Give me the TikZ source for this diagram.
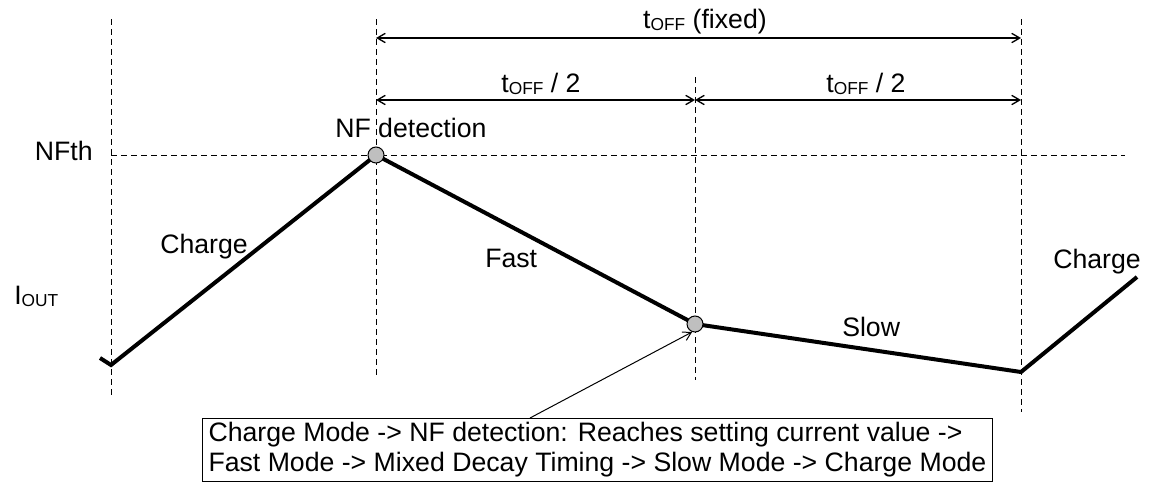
\documentclass[tikz,border=0pt]{standalone}
\usepackage{fontspec}
\setmainfont{Liberation Sans}
\usetikzlibrary{positioning,arrows.meta}

\newcommand{\subtxt}[1]{\raisebox{-0.08em}{\fontsize{13}{13}\selectfont #1}}

\tikzset{
  guide/.style={black, line width=0.75pt, dash pattern=on 4.5pt off 3pt},
  dim/.style={black, line width=1pt, {Straight Barb[length=6pt,width=7pt]}-{Straight Barb[length=6pt,width=7pt]}},
  wave/.style={black, line width=3pt},
  dot/.style={circle, draw=black, line width=0.75pt, fill=black!25, minimum size=12pt, inner sep=0pt},
  lbl/.style={inner sep=0pt},
  note/.style={draw=black, line width=0.75pt, align=left, inner xsep=4.5pt, inner ysep=3pt}
}

\begin{document}
\begin{tikzpicture}[x=0.75pt, y=-0.75pt, font=\fontsize{20}{22.5}\selectfont]
\useasboundingbox (0,0) rectangle (1149,482);

\draw[guide] (111,19) -- (111,395);
\draw[guide] (376,19) -- (376,378);
\draw[guide] (695,77) -- (695,380);
\draw[guide] (1021,19) -- (1021,412);
\draw[guide] (111,155) -- (1125,155);

\coordinate (a0) at (376,38);
\coordinate (a1) at (1021,38);
\coordinate (b0) at (376,100);
\coordinate (b1) at (695,100);
\coordinate (b2) at (1021,100);
\draw[dim] (a0) -- (a1);
\draw[dim] (b0) -- (b1);
\draw[dim] (b1) -- (b2);

\coordinate (s0) at (100,358);
\coordinate (s1) at (111,365);
\coordinate (p1) at (376,155);
\coordinate (p2) at (695,324);
\coordinate (s4) at (1021,372);
\coordinate (s5) at (1137,277);
\draw[wave] (s0) -- (s1) -- (p1) -- (p2) -- (s4) -- (s5);
\node[dot] (nf1) at (p1) {};
\node[dot] (nf2) at (p2) {};

\node[lbl, anchor=base] (toff) at (705,28) {t\subtxt{OFF} (fixed)};
\node[lbl, anchor=base] (half1) at (541,92) {t\subtxt{OFF} / 2};
\node[lbl, anchor=base] (half2) at (866,92) {t\subtxt{OFF} / 2};
\node[lbl, anchor=base west] (nfdet) at (335,137) {NF detection};
\node[lbl, anchor=base east] (nfth) at (93,160) {NFth};
\node[lbl, anchor=base west] (iout) at (14,304) {I\subtxt{OUT}};
\node[lbl, anchor=base west] (chg1) at (160,253) {Charge};
\node[lbl, anchor=base west] (fast) at (485,267) {Fast};
\node[lbl, anchor=base west] (slow) at (842,336) {Slow};
\node[lbl, anchor=base west] (chg2) at (1053,268) {Charge};

\node[note, anchor=north west] (seq) at (202,418) {Charge Mode -> NF detection: Reaches setting current value ->\\Fast Mode -> Mixed Decay Timing -> Slow Mode -> Charge Mode};
\coordinate (ptr) at (530,418);
\draw[black, line width=0.75pt, -{Straight Barb[length=6pt,width=7pt]}] (ptr) -- (nf2.250);
\end{tikzpicture}
\end{document}
